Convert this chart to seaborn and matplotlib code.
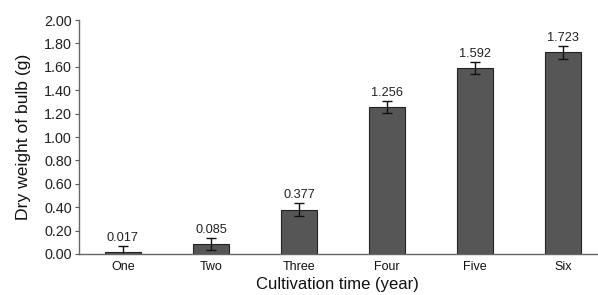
import numpy as np
import pandas as pd
import matplotlib
matplotlib.use("Agg")
import matplotlib.pyplot as plt
import seaborn as sns

years = ["One", "Two", "Three", "Four", "Five", "Six"]
weight = [0.017, 0.085, 0.377, 1.256, 1.592, 1.723]
err = [0.05, 0.05, 0.055, 0.05, 0.05, 0.055]

sns.set_style("white")
plt.rcParams['font.family'] = ['Liberation Sans', 'DejaVu Sans']

df = pd.DataFrame({"year": years, "weight": weight})

fig = plt.figure(figsize=(5.98, 2.95), dpi=100)
ax = fig.add_axes([0.132, 0.139, 0.883, 0.793])

sns.barplot(data=df, x="year", y="weight", color="#565656", edgecolor="#222222",
            linewidth=0.8, width=0.41, saturation=1, ax=ax)

x = np.arange(len(years))
ax.errorbar(x, weight, yerr=err, fmt="none", ecolor="#111111", elinewidth=1,
            capsize=3.5, capthick=1)

for xi, v, e in zip(x, weight, err):
    ax.text(xi, v + e + 0.02, f"{v:.3f}", ha="center", va="bottom", fontsize=9.2, color="#222222")

ax.set_xlim(-0.5, 5.5)
ax.set_ylim(0, 2.0)
ax.set_yticks(np.arange(0, 2.01, 0.2))
ax.set_yticklabels([f"{t:.2f}" for t in np.arange(0, 2.01, 0.2)], fontsize=10.4, color="#222222")
ax.set_xticks(x)
ax.set_xticklabels(years, fontsize=9, color="#111111")
ax.set_xticks(np.arange(0.5, 5.5, 1), minor=True)
ax.tick_params(axis="x", which="major", length=0, pad=5)
ax.tick_params(axis="x", which="minor", length=3, direction="in", color="#555555")
ax.tick_params(axis="y", which="major", length=3, direction="out", color="#555555", pad=2,
               left=True)

for s in ["top", "right"]:
    ax.spines[s].set_visible(False)
for s in ["left", "bottom"]:
    ax.spines[s].set_color("#666666")
    ax.spines[s].set_linewidth(1)

ax.set_xlabel("Cultivation time (year)", fontsize=12, color="#111111")
ax.set_ylabel("Dry weight of bulb (g)", fontsize=12.6, color="#111111")
ax.xaxis.set_label_coords(0.489, -0.1)
ax.yaxis.set_label_coords(-0.09, 0.5)

fig.savefig("out.png", dpi=100)
